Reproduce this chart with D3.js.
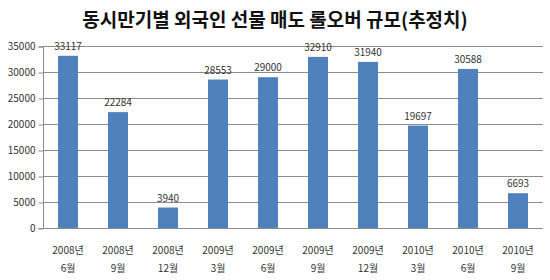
<!DOCTYPE html>
<html>
<head>
<meta charset="utf-8">
<script src="https://cdn.jsdelivr.net/npm/d3@7"></script>
<style>
  body { margin: 0; background: #fff; }
  svg { display: block; }
</style>
</head>
<body>
<div id="chart"></div>
<script>
// data
let years  = ["2008년", "2008년", "2008년", "2009년", "2009년", "2009년", "2009년", "2010년", "2010년", "2010년"];
let months = ["6월", "9월", "12월", "3월", "6월", "9월", "12월", "3월", "6월", "9월"];
let values = [33117, 22284, 3940, 28553, 29000, 32910, 31940, 19697, 30588, 6693];
let yTicks = [0, 5000, 10000, 15000, 20000, 25000, 30000, 35000];
let title = "동시만기별 외국인 선물 매도 롤오버 규모(추정치)";

let data = values.map((v, i) => ({ key: i, year: years[i], month: months[i], value: v }));

let W = 550, H = 280;
let margin = { top: 46, right: 7, bottom: 52, left: 43 };
let width = W - margin.left - margin.right;
let height = H - margin.top - margin.bottom;

let font = "'Noto Sans CJK KR', 'Liberation Sans', sans-serif";

let svg = d3.select('#chart').append('svg')
  .attr('width', W)
  .attr('height', H);

svg.append('text')
  .attr('x', W / 2)
  .attr('y', 27)
  .attr('text-anchor', 'middle')
  .style('font-family', font)
  .style('font-weight', 'bold')
  .style('font-size', '19px')
  .style('fill', '#111')
  .text(title);

let g = svg.append('g')
  .attr('transform', `translate(${margin.left}, ${margin.top})`);

let xScale = d3.scaleBand()
  .domain(data.map(d => d.key))
  .range([0, width])
  .paddingInner(0.6)
  .paddingOuter(0.3);

let yScale = d3.scaleLinear()
  .domain([0, 35000])
  .range([height, 0]);

// gridlines
g.append('g')
  .selectAll('line')
  .data(yTicks.filter(t => t > 0))
  .join('line')
  .attr('x1', 0)
  .attr('x2', width)
  .attr('y1', d => yScale(d) + 0.5)
  .attr('y2', d => yScale(d) + 0.5)
  .attr('stroke', '#8c8c8c')
  .attr('stroke-width', 1);

// y axis
let yAxis = d3.axisLeft(yScale)
  .tickValues(yTicks)
  .tickSize(5)
  .tickPadding(3)
  .tickFormat(d3.format('d'));

let yG = g.append('g').attr('transform', 'translate(0.5, 0.5)').call(yAxis);
yG.select('.domain').attr('stroke', '#8c8c8c').attr('d', `M-5,0.5H0V${height}H-5`);
yG.selectAll('.tick line').attr('stroke', '#8c8c8c');
yG.selectAll('.tick text')
  .style('font-family', font)
  .style('font-size', '10px')
  .style('fill', '#333');

// bars
g.append('g')
  .selectAll('rect')
  .data(data)
  .join('rect')
  .attr('x', d => xScale(d.key))
  .attr('width', xScale.bandwidth())
  .attr('y', d => yScale(d.value))
  .attr('height', d => height - yScale(d.value))
  .attr('fill', '#4f81bd');

// value labels
g.append('g')
  .selectAll('text')
  .data(data)
  .join('text')
  .attr('x', d => xScale(d.key) + xScale.bandwidth() / 2)
  .attr('y', d => yScale(d.value) - 6)
  .attr('text-anchor', 'middle')
  .style('font-family', font)
  .style('font-size', '10px')
  .style('fill', '#333')
  .text(d => d.value);

// x axis
let xG = g.append('g')
  .attr('transform', `translate(0, ${height + 0.5})`);
xG.append('line')
  .attr('x1', 0).attr('x2', width)
  .attr('stroke', '#8c8c8c');

let xl = xG.selectAll('.xlab')
  .data(data)
  .join('text')
  .attr('class', 'xlab')
  .attr('text-anchor', 'middle')
  .attr('transform', d => `translate(${xScale(d.key) + xScale.bandwidth() / 2}, 0)`)
  .style('font-family', font)
  .style('font-size', '10px')
  .style('fill', '#333');
xl.append('tspan').attr('x', 0).attr('y', 25).text(d => d.year);
xl.append('tspan').attr('x', 0).attr('y', 43).text(d => d.month);
</script>
</body>
</html>
